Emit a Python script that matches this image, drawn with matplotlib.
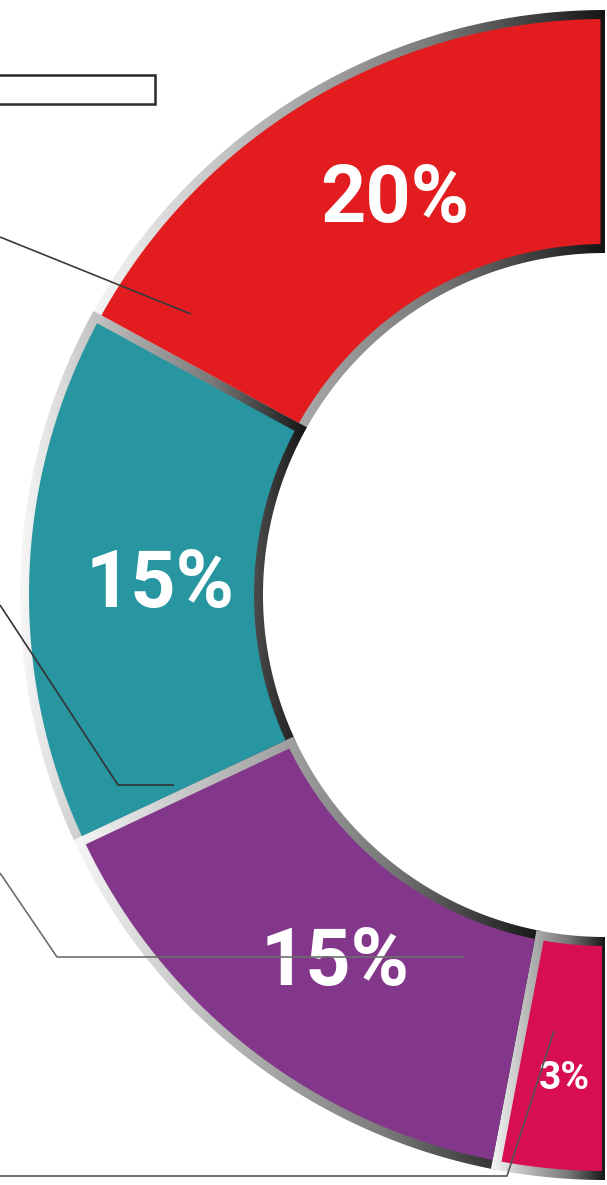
import numpy as np
import matplotlib.pyplot as plt
from matplotlib.patches import Polygon, Rectangle
from matplotlib.colors import LinearSegmentedColormap

# segment data, going counter-clockwise from the top
labels = ["20%", "15%", "15%", "3%"]
span_deg = [61.4, 53.8, 54.0, 10.8]
colors = ["#e31c1f", "#2796a0", "#82378b", "#d70f51"]
label_size = [57, 57, 57, 28]

W, H = 607, 1185
cx, cy = 605, H - 595
r_out, r_in = 585, 342
t = 9  # border thickness in px
start_angle = 90

border_cmap = LinearSegmentedColormap.from_list(
    "border", ["#f7f7f7", "#b5b5b5", "#7a7a7a", "#151515"])


def sector(r0, r1, a0, a1, s0, s1, n=240):
    # ring sector whose straight sides are moved inwards by s0 / s1 px
    a0, a1 = np.radians(a0), np.radians(a1)
    to = np.linspace(a0 + np.arcsin(s0 / r1), a1 - np.arcsin(s1 / r1), n)
    ti = np.linspace(a1 - np.arcsin(s1 / r0), a0 + np.arcsin(s0 / r0), n)
    xs = np.concatenate([cx + r1 * np.cos(to), cx + r0 * np.cos(ti)])
    ys = np.concatenate([cy + r1 * np.sin(to), cy + r0 * np.sin(ti)])
    return np.column_stack([xs, ys])


fig = plt.figure(figsize=(W / 100, H / 100), dpi=100)
ax = fig.add_axes([0, 0, 1, 1])
grad = np.linspace(0, 1, 256).reshape(1, -1)

edges = start_angle + np.concatenate([[0], np.cumsum(span_deg)])
n = len(labels)
for i in range(n):
    a0, a1 = edges[i], edges[i + 1]
    # gradient border, later segments cover the shared edge
    s_back = -t / 2 if i > 0 else 0
    pts = sector(r_in, r_out, a0, a1, s_back, 0)
    clip = Polygon(pts, closed=True, facecolor="none", edgecolor="none")
    ax.add_patch(clip)
    im = ax.imshow(grad, cmap=border_cmap, aspect="auto",
                   interpolation="bicubic", zorder=2,
                   extent=[pts[:, 0].min(), pts[:, 0].max(),
                           pts[:, 1].min(), pts[:, 1].max()])
    im.set_clip_path(clip)
    # coloured fill inside the border
    s0 = t / 2
    s1 = t / 2 if i < n - 1 else 3
    fill = sector(r_in + t, r_out - t, a0, a1, s0, s1)
    ax.add_patch(Polygon(fill, closed=True, facecolor=colors[i],
                         edgecolor="none", zorder=3))

# label anchors (angle, radius)
label_at = [(117.8, 450), (178.2, 445), (233.5, 454), (265.1, 481)]
for lab, (ang, rad), fs in zip(labels, label_at, label_size):
    ax.text(cx + rad * np.cos(np.radians(ang)),
            cy + rad * np.sin(np.radians(ang)) - 4,
            lab, color="white", fontsize=fs, fontweight="bold",
            family=["Roboto", "DejaVu Sans"], ha="center", va="center", zorder=4)

# leader lines towards the (cropped) legend, pixel coords with y down
leaders = [
    ([0, 191], [237, 314], "#3a3a3a"),
    ([0, 118, 174], [605, 785, 785], "#333333"),
    ([0, 57, 465], [873, 957, 957], "#6e6e6e"),
    ([0, 507, 554], [1176, 1176, 1031], "#555555"),
]
for xs, ys, c in leaders:
    ax.plot(xs, [H - y for y in ys], color=c, lw=1.2, zorder=5,
            solid_capstyle="butt")

ax.add_patch(Rectangle((-10, H - 104), 165, 29, facecolor="white",
                       edgecolor="#2a2a2a", lw=1.8, zorder=5))

ax.set_xlim(0, W)
ax.set_ylim(0, H)
ax.axis("off")
fig.savefig("out.png", dpi=100, facecolor="white")
